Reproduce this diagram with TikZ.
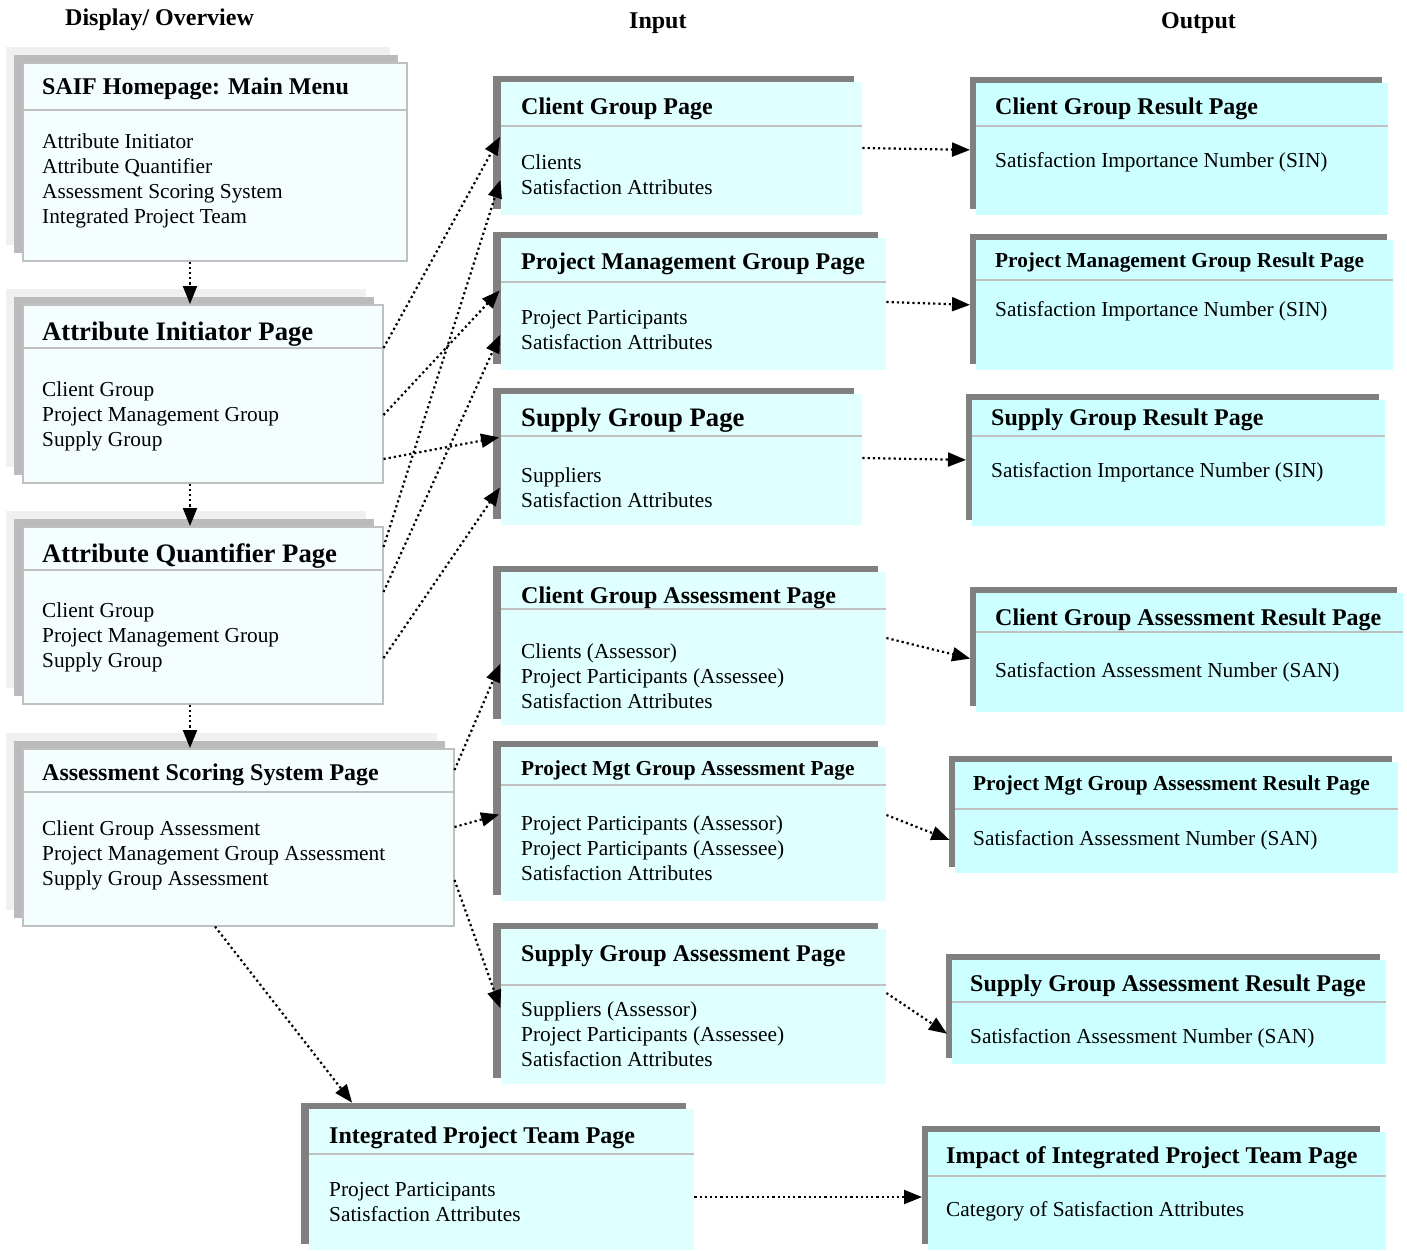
\documentclass[tikz,border=0pt]{standalone}
\usepackage{fontspec}
\setmainfont{Liberation Serif}
\usetikzlibrary{arrows.meta,shadows}
\definecolor{paper}{HTML}{F5FEFF}
\definecolor{cyanin}{HTML}{E0FFFF}
\definecolor{cyanout}{HTML}{CCFFFF}
\definecolor{rimgray}{HTML}{C0C0C0}
\definecolor{shadegray}{HTML}{808080}
\definecolor{stackdark}{HTML}{BBBBBB}
\definecolor{stacklight}{HTML}{F0F0F0}
\tikzset{
  menupage/.style={draw=rimgray, line width=1.5pt, fill=paper, anchor=north west, inner sep=0pt,
    copy shadow={shadow xshift=-17pt, shadow yshift=16pt, fill=stacklight, draw=none},
    copy shadow={shadow xshift=-9pt, shadow yshift=8pt, fill=stackdark, draw=none}},
  inpage/.style={fill=cyanin, anchor=north west, inner sep=0pt,
    copy shadow={shadow xshift=-8pt, shadow yshift=6pt, fill=shadegray, draw=none}},
  outpage/.style={fill=cyanout, anchor=north west, inner sep=0pt,
    copy shadow={shadow xshift=-6pt, shadow yshift=6pt, fill=shadegray, draw=none}},
  seprule/.style={draw=rimgray, line width=1.5pt},
  heading/.style={anchor=base west, inner sep=0pt, font=\fontsize{24pt}{28pt}\selectfont\bfseries},
  ttl/.style={anchor=base west, inner sep=0pt, font=\fontsize{24pt}{28pt}\selectfont\bfseries},
  bigttl/.style={ttl, font=\fontsize{26.67pt}{30pt}\selectfont\bfseries},
  smallttl/.style={ttl, font=\fontsize{21.33pt}{25pt}\selectfont\bfseries},
  lines/.style={anchor=base west, inner sep=0pt, align=left, font=\fontsize{21.33pt}{25pt}\selectfont},
  flow/.style={line width=2.2pt, dash pattern=on 2.2pt off 3pt, -{Triangle[length=18pt,width=14pt]}, shorten >=2pt},
  toout/.style={flow, shorten >=6pt}
}
\begin{document}
\begin{tikzpicture}[x=1pt, y=-1pt]
\useasboundingbox (0,0) rectangle (1407,1250);
% column heads
\node[heading] (h-disp) at (65,25) {Display/ Overview};
\node[heading] (h-in) at (629,28) {Input};
\node[heading] (h-out) at (1161,28) {Output};

% display / overview
\node[menupage, minimum width=384pt, minimum height=198pt] (home) at (22,62) {};
\draw[seprule] (home.west |- 0,110) -- (home.east |- 0,110);
\node[ttl] (home-t) at (42,94) {SAIF Homepage: Main Menu};
\node[lines] (home-b) at (42,223) {Attribute Initiator\\Attribute Quantifier\\Assessment Scoring System\\Integrated Project Team};

\node[menupage, minimum width=360pt, minimum height=178pt] (ai) at (22,304) {};
\draw[seprule] (ai.west |- 0,348) -- (ai.east |- 0,348);
\node[bigttl] (ai-t) at (42,340) {Attribute Initiator Page};
\node[lines] (ai-b) at (42,446) {Client Group\\Project Management Group\\Supply Group};

\node[menupage, minimum width=360pt, minimum height=177pt] (aq) at (22,526) {};
\draw[seprule] (aq.west |- 0,570) -- (aq.east |- 0,570);
\node[bigttl] (aq-t) at (42,562) {Attribute Quantifier Page};
\node[lines] (aq-b) at (42,667) {Client Group\\Project Management Group\\Supply Group};

\node[menupage, minimum width=431pt, minimum height=177pt] (ass) at (22,748) {};
\draw[seprule] (ass.west |- 0,792) -- (ass.east |- 0,792);
\node[ttl] (ass-t) at (42,780) {Assessment Scoring System Page};
\node[lines] (ass-b) at (42,885) {Client Group Assessment\\Project Management Group Assessment\\Supply Group Assessment};

% input pages
\node[inpage, minimum width=361pt, minimum height=133pt] (cg) at (501,82) {};
\draw[seprule] (cg.west |- 0,126) -- (cg.east |- 0,126);
\node[ttl] (cg-t) at (521,114) {Client Group Page};
\node[lines] (cg-b) at (521,194) {Clients\\Satisfaction Attributes};

\node[inpage, minimum width=385pt, minimum height=132pt] (pmg) at (501,238) {};
\draw[seprule] (pmg.west |- 0,282) -- (pmg.east |- 0,282);
\node[ttl] (pmg-t) at (521,269) {Project Management Group Page};
\node[lines] (pmg-b) at (521,349) {Project Participants\\Satisfaction Attributes};

\node[inpage, minimum width=361pt, minimum height=131pt] (sg) at (501,394) {};
\draw[seprule] (sg.west |- 0,436) -- (sg.east |- 0,436);
\node[bigttl] (sg-t) at (521,426) {Supply Group Page};
\node[lines] (sg-b) at (521,507) {Suppliers\\Satisfaction Attributes};

\node[inpage, minimum width=385pt, minimum height=153pt] (cga) at (501,572) {};
\draw[seprule] (cga.west |- 0,609) -- (cga.east |- 0,609);
\node[ttl] (cga-t) at (521,603) {Client Group Assessment Page};
\node[lines] (cga-b) at (521,708) {Clients (Assessor)\\Project Participants (Assessee)\\Satisfaction Attributes};

\node[inpage, minimum width=385pt, minimum height=154pt] (pmga) at (501,747) {};
\draw[seprule] (pmga.west |- 0,785) -- (pmga.east |- 0,785);
\node[smallttl] (pmga-t) at (521,775) {Project Mgt Group Assessment Page};
\node[lines] (pmga-b) at (521,880) {Project Participants (Assessor)\\Project Participants (Assessee)\\Satisfaction Attributes};

\node[inpage, minimum width=385pt, minimum height=155pt] (sga) at (501,929) {};
\draw[seprule] (sga.west |- 0,985) -- (sga.east |- 0,985);
\node[ttl] (sga-t) at (521,961) {Supply Group Assessment Page};
\node[lines] (sga-b) at (521,1066) {Suppliers (Assessor)\\Project Participants (Assessee)\\Satisfaction Attributes};

\node[inpage, minimum width=385pt, minimum height=141pt] (ipt) at (309,1109) {};
\draw[seprule] (ipt.west |- 0,1154) -- (ipt.east |- 0,1154);
\node[ttl] (ipt-t) at (329,1143) {Integrated Project Team Page};
\node[lines] (ipt-b) at (329,1221) {Project Participants\\Satisfaction Attributes};

% output pages
\node[outpage, minimum width=412pt, minimum height=132pt] (cgr) at (976,83) {};
\draw[seprule] (cgr.west |- 0,126) -- (cgr.east |- 0,126);
\node[ttl] (cgr-t) at (995,114) {Client Group Result Page};
\node[lines] (cgr-b) at (995,167) {Satisfaction Importance Number (SIN)};

\node[outpage, minimum width=417pt, minimum height=130pt] (pmgr) at (976,240) {};
\draw[seprule] (pmgr.west |- 0,280) -- (pmgr.east |- 0,280);
\node[smallttl] (pmgr-t) at (995,267) {Project Management Group Result Page};
\node[lines] (pmgr-b) at (995,316) {Satisfaction Importance Number (SIN)};

\node[outpage, minimum width=413pt, minimum height=126pt] (sgr) at (972,400) {};
\draw[seprule] (sgr.west |- 0,436) -- (sgr.east |- 0,436);
\node[ttl] (sgr-t) at (991,425) {Supply Group Result Page};
\node[lines] (sgr-b) at (991,477) {Satisfaction Importance Number (SIN)};

\node[outpage, minimum width=427pt, minimum height=119pt] (cgar) at (976,593) {};
\draw[seprule] (cgar.west |- 0,632) -- (cgar.east |- 0,632);
\node[ttl] (cgar-t) at (995,625) {Client Group Assessment Result Page};
\node[lines] (cgar-b) at (995,677) {Satisfaction Assessment Number (SAN)};

\node[outpage, minimum width=443pt, minimum height=111pt] (pmgar) at (955,762) {};
\draw[seprule] (pmgar.west |- 0,809) -- (pmgar.east |- 0,809);
\node[smallttl] (pmgar-t) at (973,790) {Project Mgt Group Assessment Result Page};
\node[lines] (pmgar-b) at (973,845) {Satisfaction Assessment Number (SAN)};

\node[outpage, minimum width=434pt, minimum height=104pt] (sgar) at (952,960) {};
\draw[seprule] (sgar.west |- 0,1002) -- (sgar.east |- 0,1002);
\node[ttl] (sgar-t) at (970,991) {Supply Group Assessment Result Page};
\node[lines] (sgar-b) at (970,1043) {Satisfaction Assessment Number (SAN)};

\node[outpage, minimum width=458pt, minimum height=118pt] (imp) at (928,1132) {};
\draw[seprule] (imp.west |- 0,1176) -- (imp.east |- 0,1176);
\node[ttl] (imp-t) at (946,1163) {Impact of Integrated Project Team Page};
\node[lines] (imp-b) at (946,1216) {Category of Satisfaction Attributes};

% menu chain
\draw[flow, shorten >=0pt] (home.south -| 190,0) -- (ai.north -| 190,0);
\draw[flow, shorten >=0pt] (ai.south -| 190,0) -- (aq.north -| 190,0);
\draw[flow, shorten >=0pt] (aq.south -| 190,0) -- (ass.north -| 190,0);

% into the input pages
\draw[flow] (ai.east |- 0,348) -- (cg.west |- 0,135);
\draw[flow] (ai.east |- 0,415) -- (pmg.west |- 0,289);
\draw[flow] (ai.east |- 0,459) -- (sg.west |- 0,437);
\draw[flow] (aq.east |- 0,547) -- (cg.west |- 0,178);
\draw[flow] (aq.east |- 0,592) -- (pmg.west |- 0,333);
\draw[flow] (aq.east |- 0,658) -- (sg.west |- 0,486);
\draw[flow] (ass.east |- 0,770) -- (cga.west |- 0,662);
\draw[flow] (ass.east |- 0,827) -- (pmga.west |- 0,814);
\draw[flow] (ass.east |- 0,880) -- (sga.west |- 0,1010);
\draw[flow, shorten >=8pt] (ass.south -| 215,0) -- (ipt.north -| 357,0);

% results
\draw[toout] (cg.east |- 0,148) -- (cgr.west |- 0,150);
\draw[toout] (pmg.east |- 0,302) -- (pmgr.west |- 0,305);
\draw[toout] (sg.east |- 0,458) -- (sgr.west |- 0,460);
\draw[toout] (cga.east |- 0,638) -- (cgar.west |- 0,660);
\draw[toout] (pmga.east |- 0,815) -- (pmgar.west |- 0,842);
\draw[toout] (sga.east |- 0,993) -- (sgar.west |- 0,1037);
\draw[toout] (ipt.east |- 0,1197) -- (imp.west |- 0,1197);
\end{tikzpicture}
\end{document}
